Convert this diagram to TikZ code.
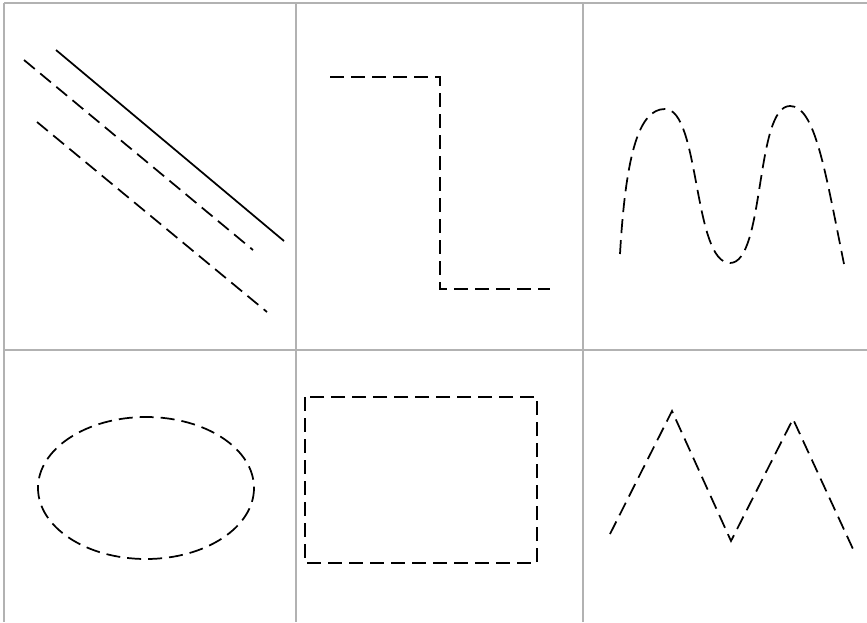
\documentclass[tikz,border=0pt]{standalone}
\usepackage{tikz}
\usetikzlibrary{calc}

\tikzset{
  cellline/.style={line width=0.8pt, color=black!30},
  strokeline/.style={line width=1.3pt, black},
  dashline/.style={strokeline, dash pattern=on 10.5pt off 5.25pt}
}

\begin{document}
\begin{tikzpicture}[x=0.75pt, y=-0.75pt]
\def\wd{867}
\def\ht{622}
\def\xa{4}
\def\xb{296}
\def\xc{583}
\def\ya{3}
\def\yb{350}

\useasboundingbox (0,0) rectangle (\wd,\ht);

% grid of cells
\draw[cellline] (\xa,\ya) -- (\wd,\ya);
\draw[cellline] (\xa,\yb) -- (\wd,\yb);
\foreach \x in {\xa,\xb,\xc}
  \draw[cellline] (\x,\ya) -- (\x,\ht);

% cell 1: parallel lines
\draw[strokeline] (56,50) -- (284,241);
\draw[dashline] (24,60) -- (253,250);
\draw[dashline] (37,122) -- (267,312);

% cell 2: step
\coordinate (S1) at (330,77);
\coordinate (S2) at (440,77);
\coordinate (S3) at (440,289);
\coordinate (S4) at (550,289);
\draw[dashline] (S1) -- (S2) -- (S3) -- (S4);

% cell 3: wave
\coordinate (W1) at (620,254);
\coordinate (W2) at (665,109);
\coordinate (W3) at (730,263);
\coordinate (W4) at (790,106);
\coordinate (W5) at (844,264);
\draw[dashline] (W1) .. controls (626,150) and (640,109) .. (W2)
  .. controls (700,109) and (693,263) .. (W3)
  .. controls (765,263) and (755,106) .. (W4)
  .. controls (815,106) and (825,170) .. (W5);

% cell 4: ellipse
\coordinate (E) at (146,488);
\draw[dashline] (E) ellipse[x radius=108, y radius=71];

% cell 5: rectangle
\draw[dashline] (305,397) rectangle (537,563);

% cell 6: zigzag
\coordinate (Z1) at (610,534);
\coordinate (Z2) at (672,411);
\coordinate (Z3) at (731,541);
\coordinate (Z4) at (793,419);
\coordinate (Z5) at (853,549);
\draw[dashline] (Z1) -- (Z2) -- (Z3) -- (Z4) -- (Z5);
\end{tikzpicture}
\end{document}
